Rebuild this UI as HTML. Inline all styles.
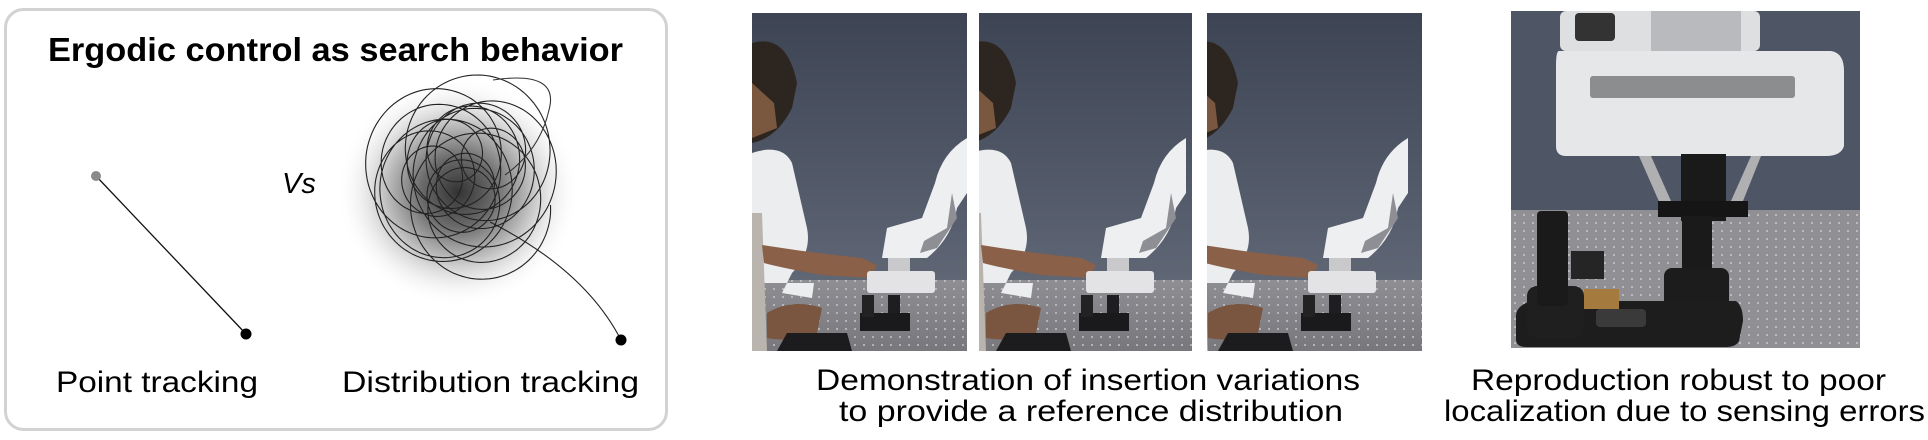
<!DOCTYPE html>
<html><head><meta charset="utf-8">
<style>
html,body{margin:0;padding:0;background:#fff;}
svg{display:block;}
text{font-family:"Liberation Sans Narrow","Liberation Sans",sans-serif;fill:#000;}
</style></head>
<body>
<svg id="fig" width="1928" height="440" viewBox="0 0 1928 440" xmlns="http://www.w3.org/2000/svg">
<defs>
  <radialGradient id="blob" cx="50%" cy="50%" r="50%">
    <stop offset="0" stop-color="#333"/>
    <stop offset="0.3" stop-color="#6a6a6a"/>
    <stop offset="0.65" stop-color="#d0d0d0"/>
    <stop offset="1" stop-color="#fff" stop-opacity="0"/>
  </radialGradient>
  <linearGradient id="curtain" x1="0" x2="0" y1="0" y2="1">
    <stop offset="0" stop-color="#3d4454"/>
    <stop offset="0.6" stop-color="#565d6d"/>
    <stop offset="1" stop-color="#6a707c"/>
  </linearGradient>
  <linearGradient id="table" x1="0" x2="0" y1="0" y2="1">
    <stop offset="0" stop-color="#8e8e93"/>
    <stop offset="1" stop-color="#77777c"/>
  </linearGradient>
  <pattern id="holes" width="9" height="8" patternUnits="userSpaceOnUse">
    <circle cx="4" cy="4" r="0.9" fill="#d8d8dc"/>
  </pattern>
  <g id="scene">
    <rect x="-30" y="0" width="275" height="338" fill="url(#curtain)"/>
    <rect x="-30" y="267" width="275" height="71" fill="url(#table)"/>
    <rect x="-30" y="267" width="275" height="71" fill="url(#holes)"/>
    <path d="M0 140 Q30 130 40 150 L55 215 Q60 240 40 260 L30 280 L60 285 L62 270 L0 270 Z" fill="#ecedef"/>
    <path d="M0 30 Q35 20 45 70 L40 95 Q25 125 0 130 Z" fill="#2d2620"/>
    <path d="M0 70 L22 90 L25 115 L0 125 Z" fill="#7a5840"/>
    <path d="M0 200 L10 200 L15 338 L0 338 Z" fill="#b9b4ad"/>
    <path d="M10 232 Q60 240 110 245 L125 252 L118 265 L70 262 Q30 255 12 250 Z" fill="#8a6048"/>
    <path d="M15 300 Q40 285 70 295 L65 320 Q40 330 15 325 Z" fill="#7a5540"/>
    <path d="M25 338 L35 320 L95 320 L100 338 Z" fill="#1c1c1e"/>
    <path d="M215 125 Q190 140 183 170 L170 205 L135 215 L130 245 L175 245 Q200 225 205 195 L215 180 Z" fill="#eeeff1"/>
    <path d="M200 180 L195 215 L172 228 L168 240 L185 235 L205 205 Z" fill="#8d8f94"/>
    <rect x="136" y="245" width="22" height="20" fill="#c9c9cc"/>
    <rect x="115" y="258" width="68" height="22" rx="3" fill="#e3e3e5"/>
    <rect x="136" y="282" width="12" height="28" fill="#1e1e20"/>
    <rect x="108" y="300" width="50" height="18" fill="#1a1a1c"/>
    <rect x="110" y="282" width="12" height="22" fill="#222"/>
  </g>
</defs>

<g>
  <rect x="5.5" y="9.5" width="661" height="420" rx="18" fill="#fff" stroke="#d2d2d2" stroke-width="3"/>
  <text x="48" y="61" font-size="33" font-weight="bold" textLength="575" lengthAdjust="spacingAndGlyphs">Ergodic control as search behavior</text>
  <line x1="96" y1="176" x2="246" y2="334" stroke="#111" stroke-width="1.3"/>
  <circle cx="96" cy="176" r="5" fill="#8a8a8a"/>
  <circle cx="246" cy="334" r="5.5" fill="#000"/>
  <text x="282" y="193" font-size="29" font-style="italic">Vs</text>
  <ellipse cx="458" cy="192" rx="122" ry="115" fill="url(#blob)"/>
  <path id="scribble" fill="none" stroke="#222" stroke-width="1.1"/>
  <path d="M490 222 Q585 270 621 340" fill="none" stroke="#222" stroke-width="1.1"/>
  <path d="M493 80 Q560 70 549 110 Q540 150 505 175" fill="none" stroke="#333" stroke-width="1.1"/>
  <circle cx="621" cy="340" r="5.5" fill="#000"/>
  <text x="56" y="392" font-size="30" textLength="202" lengthAdjust="spacingAndGlyphs">Point tracking</text>
  <text x="342" y="392" font-size="30" textLength="297" lengthAdjust="spacingAndGlyphs">Distribution tracking</text>
</g>

<g>
  <svg x="752" y="13" width="215" height="338"><use href="#scene"/></svg>
  <svg x="979" y="13" width="213" height="338"><use href="#scene" transform="translate(-8,0)"/></svg>
  <svg x="1207" y="13" width="215" height="338"><use href="#scene" transform="translate(-14,0)"/></svg>
  <text x="816" y="390" font-size="30" textLength="544" lengthAdjust="spacingAndGlyphs">Demonstration of insertion variations</text>
  <text x="839" y="421" font-size="30" textLength="504" lengthAdjust="spacingAndGlyphs">to provide a reference distribution</text>
</g>

<g>
  <svg x="1511" y="11" width="349" height="337">
    <rect width="349" height="337" fill="#4e5565"/>
    <rect y="199" width="349" height="138" fill="#8f8f94"/>
    <rect y="199" width="349" height="138" fill="url(#holes)"/>
    <rect x="49" y="0" width="200" height="40" rx="6" fill="#dedfe0"/>
    <rect x="64" y="2" width="40" height="28" rx="4" fill="#333"/>
    <rect x="140" y="0" width="90" height="60" fill="#b8babd"/>
    <path d="M48 40 L320 40 Q333 42 333 60 L333 135 Q330 145 315 145 L55 145 Q45 145 45 135 L45 55 Q45 40 48 40 Z" fill="#e6e7e8"/>
    <rect x="79" y="65" width="205" height="22" rx="3" fill="#8b8d8f"/>
    <rect x="170" y="143" width="45" height="67" fill="#1a1a1a"/>
    <path d="M128 145 L140 145 L160 190 L150 195 Z" fill="#b0b0b2"/>
    <path d="M250 145 L240 145 L220 190 L230 195 Z" fill="#b0b0b2"/>
    <rect x="147" y="190" width="90" height="16" fill="#151515"/>
    <rect x="171" y="205" width="30" height="62" fill="#1a1a1a"/>
    <rect x="153" y="257" width="65" height="75" rx="8" fill="#1c1c1c"/>
    <path d="M5 305 Q5 295 20 290 L225 290 Q232 295 232 310 L228 330 Q225 336 215 336 L15 336 Q5 336 5 328 Z" fill="#1d1d1d"/>
    <rect x="16" y="275" width="57" height="52" rx="10" fill="#1f1f1f"/>
    <rect x="26" y="200" width="31" height="95" rx="4" fill="#1a1a1a"/>
    <rect x="60" y="240" width="33" height="28" fill="#252525"/>
    <rect x="73" y="278" width="35" height="20" fill="#a47a3e"/>
    <rect x="85" y="298" width="50" height="18" rx="4" fill="#3a3a3a"/>
  </svg>
  <text x="1471" y="390" font-size="30" textLength="415" lengthAdjust="spacingAndGlyphs">Reproduction robust to poor</text>
  <text x="1444" y="421" font-size="30" textLength="481" lengthAdjust="spacingAndGlyphs">localization due to sensing errors</text>
</g>
</svg>
<script>
// decorative scribble: loops of varying radius around a wandering centre
var cx = 460, cy = 178, pts = [];
for (var i = 0; i <= 1600; i++) {
  var t = i / 1600 * Math.PI * 2 * 16;
  var r = 50 + 22 * Math.sin(t * 0.29 + 0.7);
  var x = cx + r * Math.cos(t) + 30 * Math.cos(t * 0.071 + 0.5);
  var y = cy + r * Math.sin(t) * 1.05 + 28 * Math.sin(t * 0.053 + 1.3);
  pts.push((i ? 'L' : 'M') + x.toFixed(1) + ' ' + y.toFixed(1));
}
document.getElementById('scribble').setAttribute('d', pts.join(' '));
</script>
</body></html>
